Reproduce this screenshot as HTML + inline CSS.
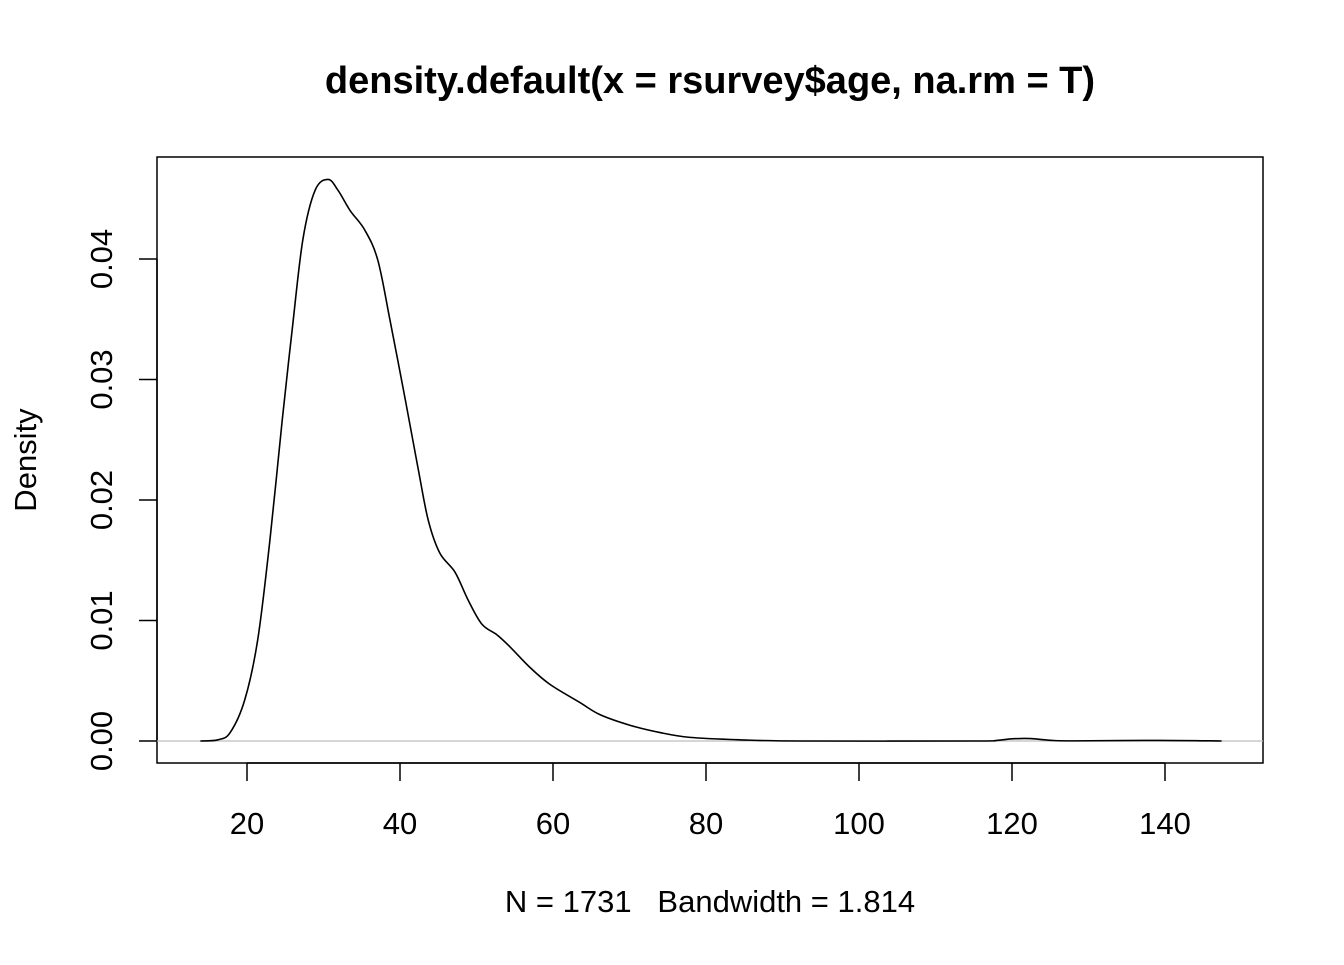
<!DOCTYPE html>
<html><head><meta charset="utf-8"><style>
body{margin:0;background:#fff;}
svg text{font-family:"Liberation Sans",Arial,sans-serif;fill:#000;white-space:pre;}
</style></head><body>
<svg id="chart" width="1344" height="960" xmlns="http://www.w3.org/2000/svg">
<text x="710" y="93" text-anchor="middle" font-size="38" font-weight="bold">density.default(x = rsurvey$age, na.rm = T)</text>
<rect x="157" y="157" width="1106" height="606" fill="none" stroke="#000" stroke-width="1.5"/>
<text x="710" y="912" text-anchor="middle" font-size="31">N = 1731   Bandwidth = 1.814</text>
<text transform="translate(36,460) rotate(-90)" text-anchor="middle" font-size="31">Density</text>
<g id="axes"></g>
<g id="marks"></g>
</svg>
<script>
const xTicks=[20,40,60,80,100,120,140];
const yTicks=[0,0.01,0.02,0.03,0.04];
const yTickLabels=["0.00","0.01","0.02","0.03","0.04"];
const ages=[13.9,16.2,17.8,19.7,21.4,23.0,24.6,25.9,27.3,28.9,30.6,31.9,33.5,35.4,37.1,38.7,40.7,42.4,43.7,45.2,47.2,48.9,50.7,52.7,54.4,57.0,59.6,63.5,66.1,70.1,74.0,77.9,84.4,92.3,115,118,120,122.4,125,128,139.3,147.4];
const densities=[0,0.0001,0.0007,0.0034,0.0084,0.0167,0.0266,0.0341,0.0416,0.0457,0.0466,0.0457,0.044,0.0424,0.0399,0.0349,0.0283,0.0225,0.0183,0.0156,0.014,0.0117,0.0097,0.0088,0.0078,0.0061,0.0047,0.0032,0.0022,0.0013,0.0007,0.0003,0.0001,0,0,0.00005,0.00018,0.0002,0.00006,0.00001,0.00005,0];
const NS="http://www.w3.org/2000/svg";
const sx=v=>247+(v-20)*7.65;
const sy=v=>741-v*12050;
const axes=document.getElementById('axes'),marks=document.getElementById('marks');
function mk(t,a,p){const e=document.createElementNS(NS,t);for(const k in a)e.setAttribute(k,a[k]);p.appendChild(e);return e;}
const xl=mk('line',{x1:sx(20),x2:sx(140),y1:763,y2:763,stroke:'#000','stroke-width':1.5},axes);


xTicks.forEach(v=>{
 const t=mk('line',{x1:sx(v),x2:sx(v),y1:763,y2:781,stroke:'#000','stroke-width':1.5},axes);
 
 
 const l=mk('text',{x:sx(v),y:834,'text-anchor':'middle','font-size':31},axes);l.textContent=v;
 
 
});
yTicks.forEach((v,i)=>{
 const t=mk('line',{x1:139,x2:157,y1:sy(v),y2:sy(v),stroke:'#000','stroke-width':1.5},axes);
 
 
 const l=mk('text',{transform:`translate(112,${sy(v)}) rotate(-90)`,'text-anchor':'middle','font-size':31},axes);l.textContent=yTickLabels[i];
 
 
});
const yl=mk('line',{x1:157,x2:157,y1:sy(0),y2:sy(0.04),stroke:'#000','stroke-width':1.5},axes);


const zl=mk('line',{x1:157,x2:1263,y1:sy(0),y2:sy(0),stroke:'#bebebe','stroke-width':1.3},marks);


const pts=ages.map((a,i)=>[sx(a),sy(densities[i])]);
let d=`M${pts[0][0]},${pts[0][1]}`;
for(let i=0;i<pts.length-1;i++){const p0=pts[i-1]||pts[i],p1=pts[i],p2=pts[i+1],p3=pts[i+2]||p2;
 d+=` C${p1[0]+(p2[0]-p0[0])/6},${p1[1]+(p2[1]-p0[1])/6} ${p2[0]-(p3[0]-p1[0])/6},${p2[1]-(p3[1]-p1[1])/6} ${p2[0]},${p2[1]}`;}
const line=mk('path',{d:d,fill:'none',stroke:'#000','stroke-width':1.6},marks);


</script>
</body></html>
